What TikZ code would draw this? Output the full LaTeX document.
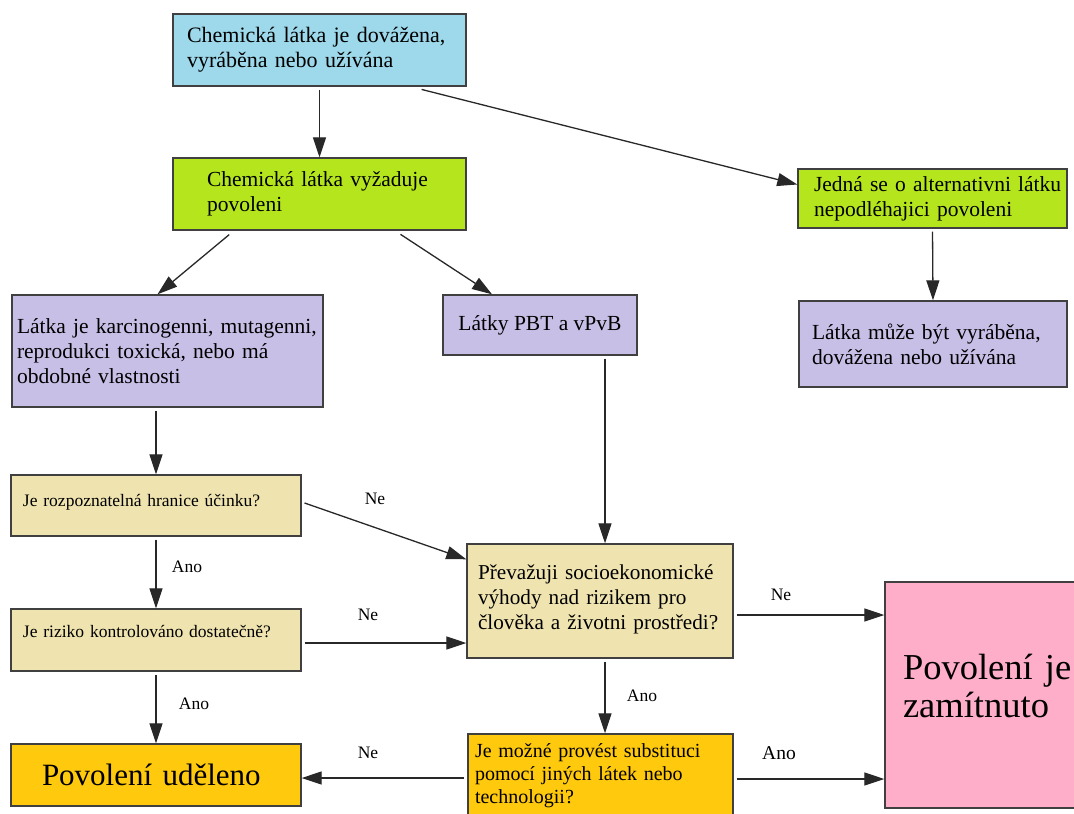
\documentclass[tikz,border=0pt]{standalone}
\usepackage{fontspec}
\setmainfont{Liberation Serif}
\usetikzlibrary{arrows.meta,calc}
\definecolor{cblue}{RGB}{157,217,234}
\definecolor{cgreen}{RGB}{181,230,29}
\definecolor{cpurple}{RGB}{200,191,231}
\definecolor{ctan}{RGB}{239,228,176}
\definecolor{corange}{RGB}{255,201,14}
\definecolor{cpink}{RGB}{255,174,201}
\definecolor{cborder}{RGB}{64,64,64}
\definecolor{cline}{RGB}{40,40,40}
\begin{document}
\begin{tikzpicture}[x=1pt,y=-1pt,
  box/.style={draw=cborder, line width=1.4pt, rectangle, inner sep=0pt, align=left},
  arr/.style={draw=cline, line width=1.3pt, -{Triangle[length=20pt,width=13pt]}, shorten <=3pt},
  lab/.style={font=\fontsize{17.5}{20}\selectfont, inner sep=0pt},
  big/.style={font=\fontsize{21.5}{25}\selectfont},
  small/.style={font=\fontsize{17.5}{20}\selectfont},
]
\clip (0,0) rectangle (1074,814);
\fill[white] (0,0) rectangle (1074,814);

% boxes
\node[box, fill=cblue, font=\fontsize{22}{25}\selectfont, minimum width=293pt, minimum height=72pt, text width=265pt]
  (top) at (319.5,50) {\mbox{Chemická látka je dovážena,}\\vyráběna nebo užívána};
\node[box, fill=cgreen, big, minimum width=293pt, minimum height=72pt, text width=225pt]
  (greenL) at (319.5,194) {\mbox{Chemická látka vyžaduje}\\povoleni};
\node[box, fill=cgreen, big, minimum width=269pt, minimum height=59pt, text width=237pt]
  (greenR) at (932.5,198.5) {\mbox{Jedná se o alternativni látku}\\\mbox{nepodléhajici povoleni}};
\node[box, fill=cpurple, big, minimum width=268pt, minimum height=86pt, text width=242pt]
  (purpleR) at (933,344) {\mbox{Látka může být vyráběna,}\\\mbox{dovážena nebo užívána}};
\node[box, fill=cpurple, big, minimum width=311pt, minimum height=112pt, text width=301pt]
  (purpleL) at (167.5,351) {\mbox{Látka je karcinogenni, mutagenni,}\\\mbox{reprodukci toxická, nebo má}\\\mbox{obdobné vlastnosti}};
\node[box, fill=cpurple, big, align=center, minimum width=194pt, minimum height=60pt]
  (pbt) at (540,325) {Látky PBT a vPvB};
\node[box, fill=ctan, small, minimum width=290pt, minimum height=61pt, text width=266pt, text height=13pt, text depth=12pt]
  (tan1) at (156,505.5) {\mbox{Je rozpoznatelná hranice účinku?}};
\node[box, fill=ctan, small, minimum width=290pt, minimum height=62pt, text width=266pt, text height=13pt, text depth=19pt]
  (tan2) at (156,640) {\mbox{Je riziko kontrolováno dostatečně?}};
\node[box, fill=ctan, font=\fontsize{21.2}{25}\selectfont, minimum width=266pt, minimum height=114pt, text width=244pt]
  (mid) at (600,601) {\mbox{Převažuji socioekonomické}\\\mbox{výhody nad rizikem pro}\\\mbox{člověka a životni prostředi?}\\[-17pt]\mbox{}};
\node[box, fill=corange, font=\fontsize{20}{23}\selectfont, minimum width=265pt, minimum height=84pt, text width=251pt]
  (sub) at (600.5,776) {\mbox{Je možné provést substituci}\\\mbox{pomocí jiných látek nebo}\\\mbox{technologii?}};
\node[box, fill=corange, font=\fontsize{31}{35}\selectfont, minimum width=290pt, minimum height=62pt, text width=228pt]
  (povU) at (156,775) {\mbox{Povolení uděleno}};
\node[box, fill=cpink, font=\fontsize{36.5}{38}\selectfont, minimum width=210pt, minimum height=226pt, text width=174pt]
  (pink) at (990,695) {\mbox{Povolení je}\\\mbox{zamítnuto}\\[-20pt]\mbox{}};

% connectors
\draw[arr] (top.south) -- (greenL.north);
\draw[arr] ($(top.south east)+(-48,2)$) -- ($(greenR.west)+(0,-14)$);
\draw[arr] ($(greenL.south)+(-88,2)$) -- ($(purpleL.north)+(-10,0)$);
\draw[arr] ($(greenL.south)+(78.5,2)$) -- ($(pbt.north)+(-48,0)$);
\draw[arr] (greenR.south) -- (purpleR.north);
\draw[arr] (purpleL.south -| tan1.north) -- (tan1.north);
\draw[arr] (tan1.south) -- (tan2.north) node[lab, at={(187,567)}] {Ano};
\draw[arr] (tan2.south) -- (povU.north) node[lab, at={(194,704)}] {Ano};
\draw[arr] ($(tan1.east)+(0,-3.5)$) -- ($(mid.north west)+(0,16)$) node[lab, at={(375,499)}] {Ne};
\draw[arr] ($(tan2.east)+(0,3)$) -- ($(mid.west)+(0,42)$) node[lab, at={(368,615)}] {Ne};
\draw[arr] ($(pbt.south)+(65,0)$) -- ($(mid.north)+(5,0)$);
\draw[arr] ($(mid.east)+(0,14)$) -- ($(pink.west)+(0,-80)$) node[lab, at={(781,595)}] {Ne};
\draw[arr] ($(mid.south)+(5,0)$) -- ($(sub.north)+(4.5,0)$) node[lab, at={(642,696)}] {Ano};
\draw[arr] ($(sub.west)+(0,2)$) -- ($(povU.east)+(0,3)$) node[lab, at={(368,753)}] {Ne};
\draw[arr] ($(sub.east)+(0,3)$) -- ($(pink.west)+(0,84)$) node[lab, font=\fontsize{19.5}{22}\selectfont, at={(779,753)}] {Ano};
\end{tikzpicture}
\end{document}
